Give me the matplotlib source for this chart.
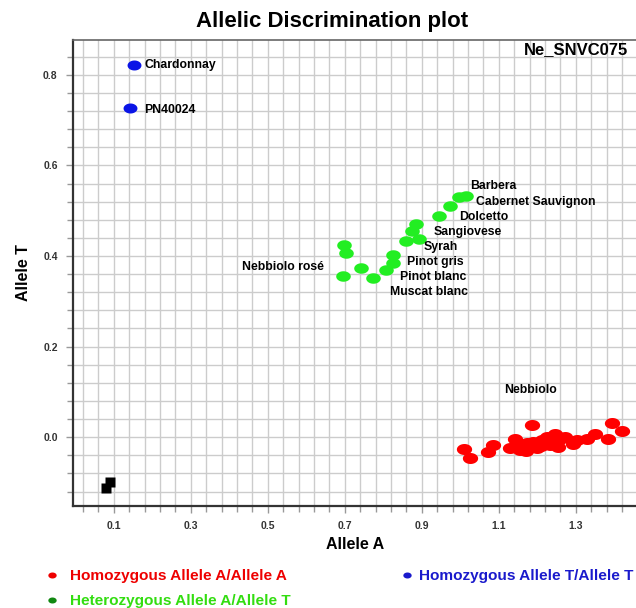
import matplotlib
matplotlib.use("Agg")
import matplotlib.pyplot as plt
import numpy as np
from matplotlib.path import Path
from matplotlib.lines import Line2D

plt.rcParams['font.family'] = ['Liberation Sans', 'DejaVu Sans']

# homozygous A/A (red)
red_x = [1.009, 1.025, 1.071, 1.085, 1.142, 1.130, 1.155, 1.187, 1.174, 1.198,
         1.211, 1.224, 1.232, 1.245, 1.250, 1.271, 1.254, 1.293, 1.302, 1.328,
         1.349, 1.384, 1.395, 1.421, 1.160, 1.190, 1.210, 1.240, 1.170, 1.260]
red_y = [-0.027, -0.046, -0.032, -0.018, -0.004, -0.025, -0.029, 0.027, -0.013, -0.023,
         -0.007, 0.001, -0.018, 0.008, -0.007, 0.001, -0.021, -0.014, -0.007, -0.003,
         0.008, -0.003, 0.032, 0.014, -0.020, -0.010, -0.020, -0.010, -0.030, -0.005]

# heterozygous A/T (green)
green_x = [0.698, 0.702, 0.696, 0.743, 0.773, 0.808, 0.824, 0.824,
           0.860, 0.893, 0.875, 0.886, 0.945, 0.973, 0.997, 1.014]
green_y = [0.424, 0.406, 0.356, 0.374, 0.351, 0.369, 0.385, 0.402,
           0.433, 0.437, 0.455, 0.471, 0.488, 0.511, 0.531, 0.533]

# homozygous T/T (blue)
blue_x = [0.152, 0.142]
blue_y = [0.822, 0.727]

# no template controls
ntc_x = [0.079, 0.090]
ntc_y = [-0.113, -0.100]

labels = ['Chardonnay', 'PN40024', 'Barbera', 'Cabernet Sauvignon', 'Dolcetto',
          'Sangiovese', 'Syrah', 'Pinot gris', 'Pinot blanc', 'Muscat blanc',
          'Nebbiolo rosé', 'Nebbiolo']
label_x = [0.179, 0.180, 1.025, 1.042, 0.996, 0.932, 0.905, 0.862, 0.843, 0.817,
           0.432, 1.115]
label_y = [0.822, 0.723, 0.554, 0.519, 0.487, 0.454, 0.420, 0.387, 0.354, 0.321,
           0.376, 0.105]

legend_items = ['Homozygous Allele A/Allele A', 'Heterozygous Allele A/Allele T',
                'Homozygous Allele T/Allele T']

# flattened ellipse marker
t = np.linspace(0, 2 * np.pi, 60)
ell = Path(np.column_stack([np.cos(t), 0.72 * np.sin(t)]), closed=True)

fig = plt.figure(figsize=(6.36, 6.08), dpi=100)
ax = fig.add_axes([73 / 636, 1 - 506 / 608, (642 - 73) / 636, (506 - 40) / 608])
ax.set_xlim(-0.006, 1.472)
ax.set_ylim(-0.152, 0.877)

ax.set_xticks(np.arange(0.1, 1.45, 0.2))
ax.set_xticks(np.arange(0.02, 1.47, 0.04), minor=True)
ax.set_yticks(np.arange(0.0, 0.81, 0.2))
ax.set_yticks(np.arange(-0.12, 0.87, 0.04), minor=True)
ax.set_xticklabels(['%.1f' % v for v in np.arange(0.1, 1.45, 0.2)])
ax.set_yticklabels(['%.1f' % v for v in np.arange(0.0, 0.81, 0.2)])
ax.grid(True, which='both', color='#cccccc', lw=1.0)
ax.set_axisbelow(True)
ax.tick_params(which='both', direction='out', color='#999999', labelsize=7.5,
               labelcolor='#333333')
ax.tick_params(which='major', length=5, width=1, pad=6)
ax.tick_params(which='minor', length=4, width=1)
for lab in ax.get_xticklabels() + ax.get_yticklabels():
    lab.set_fontweight('bold')
for s in ['left', 'bottom']:
    ax.spines[s].set_color('#333333')
    ax.spines[s].set_linewidth(1.6)
ax.spines['top'].set_color('#666666')
ax.spines['top'].set_linewidth(1.2)

ax.plot(red_x, red_y, ls='none', marker=ell, ms=11, color='#ff0000', mec='none')
ax.plot(green_x, green_y, ls='none', marker=ell, ms=10.5, color='#22ee22', mec='none')
ax.plot(blue_x, blue_y, ls='none', marker=ell, ms=10, color='#0a14e6', mec='none')
ax.plot(ntc_x, ntc_y, ls='none', marker='s', ms=6.5, color='black', mec='none')

for txt, x, y in zip(labels, label_x, label_y):
    ax.text(x, y, txt, fontsize=8.8, fontweight='bold', va='center', ha='left')

fig.text(524 / 636, 1 - 50 / 608, 'Ne_SNVC075', fontsize=12,
         fontweight='bold', ha='left', va='center')
ax.set_xlabel('Allele A', fontsize=11.5, fontweight='bold')
ax.set_ylabel('Allele T', fontsize=11.5, fontweight='bold')
ax.xaxis.set_label_coords((355 - 73) / (642 - 73), -0.067)
ax.yaxis.set_label_coords(-(73 - 31) / (642 - 73), 0.5)
fig.text(332 / 636, 1 - 21 / 608, 'Allelic Discrimination plot', fontsize=16,
         fontweight='bold', ha='center', va='center')

# legend below the plot
leg_pos = [(52, 70, 576), (52, 70, 601), (407, 419, 576)]
leg_text_col = ['#ee0000', '#33dd11', '#1a1acc']
leg_dot_col = ['#ee0000', '#118811', '#1a1acc']
for txt, (dx, tx, y), tc, dc in zip(legend_items, leg_pos, leg_text_col, leg_dot_col):
    fy = 1 - y / 608
    fig.add_artist(Line2D([dx / 636], [fy + 0.002], marker=ell, ms=6, color=dc,
                          mec='none', transform=fig.transFigure))
    fig.text(tx / 636, fy, txt, color=tc, fontsize=11.1, fontweight='bold',
             ha='left', va='center')

fig.savefig('out.png', dpi=100)
